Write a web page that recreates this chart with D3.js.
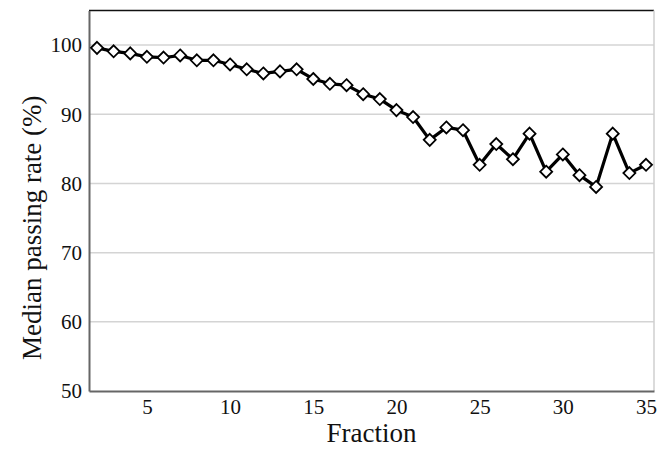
<!DOCTYPE html>
<html><head><meta charset="utf-8">
<script src="https://cdn.jsdelivr.net/npm/d3@7"></script>
<style>html,body{margin:0;padding:0;background:#fff;}svg{display:block;}</style>
</head><body>
<svg id="c" width="666" height="451"></svg>
<script>
const fractions = [2,3,4,5,6,7,8,9,10,11,12,13,14,15,16,17,18,19,20,21,22,23,24,25,26,27,28,29,30,31,32,33,34,35];
const passingRate = [99.6,99.1,98.8,98.3,98.2,98.5,97.8,97.8,97.2,96.5,95.9,96.2,96.5,95.1,94.4,94.2,92.9,92.2,90.6,89.6,86.3,88.1,87.7,82.7,85.7,83.5,87.2,81.7,84.2,81.2,79.5,87.2,81.5,82.7];
const xTicks = [5,10,15,20,25,30,35];
const yTicks = [50,60,70,80,90,100];

const svg = d3.select("#c");
const L = 89, R = 654, T = 10.5, B = 391;
const x = d3.scaleLinear().domain([1.52, 35.48]).range([L, R]);
const y = d3.scaleLinear().domain([50, 105]).range([B, T]);
const font = "Liberation Serif, Times New Roman, serif";

// gridlines
svg.append("g").selectAll("line").data(yTicks.filter(d => d > 50)).join("line")
  .attr("x1", L).attr("x2", R).attr("y1", d => y(d)).attr("y2", d => y(d))
  .attr("stroke", "#d4d4d4").attr("stroke-width", 1.5);

// frame
svg.append("line").attr("x1", L).attr("x2", R).attr("y1", T).attr("y2", T).attr("stroke", "#111").attr("stroke-width", 1.5);
svg.append("line").attr("x1", R).attr("x2", R).attr("y1", T).attr("y2", B).attr("stroke", "#cfcfcf").attr("stroke-width", 1.5);

// axes
const yAxis = d3.axisLeft(y).tickValues(yTicks).tickSize(0).tickPadding(7);
const gy = svg.append("g").attr("transform", `translate(${L},0)`).call(yAxis).attr("font-family", font).attr("font-size", 21);
gy.select(".domain").attr("stroke", "#666").attr("stroke-width", 2);
gy.selectAll("text").attr("fill", "#111");

const xAxis = d3.axisBottom(x).tickValues(xTicks).tickSize(0).tickPadding(8);
const gx = svg.append("g").attr("transform", `translate(0,${B})`).call(xAxis).attr("font-family", font).attr("font-size", 21);
gx.select(".domain").attr("stroke", "#666").attr("stroke-width", 2);
gx.selectAll("text").attr("fill", "#111");

// line
const data = fractions.map((f, i) => ({f, v: passingRate[i]}));
svg.append("path").datum(data)
  .attr("d", d3.line().x(d => x(d.f)).y(d => y(d.v)))
  .attr("fill", "none").attr("stroke", "#000").attr("stroke-width", 3.2).attr("stroke-linejoin", "round");

// diamond markers
svg.append("g").selectAll("path").data(data).join("path")
  .attr("transform", d => `translate(${x(d.f)},${y(d.v)})`)
  .attr("d", "M0,-6L6,0L0,6L-6,0Z")
  .attr("fill", "#fff").attr("stroke", "#000").attr("stroke-width", 1.8);

// titles
svg.append("text").attr("x", (L + R) / 2).attr("y", 442).attr("text-anchor", "middle")
  .attr("font-family", font).attr("font-size", 27).attr("fill", "#111").text("Fraction");
svg.append("text").attr("transform", `translate(41,${(T + B) / 2 + 27}) rotate(-90)`).attr("text-anchor", "middle")
  .attr("font-family", font).attr("font-size", 27).attr("fill", "#111").text("Median passing rate (%)");
</script>
</body></html>
